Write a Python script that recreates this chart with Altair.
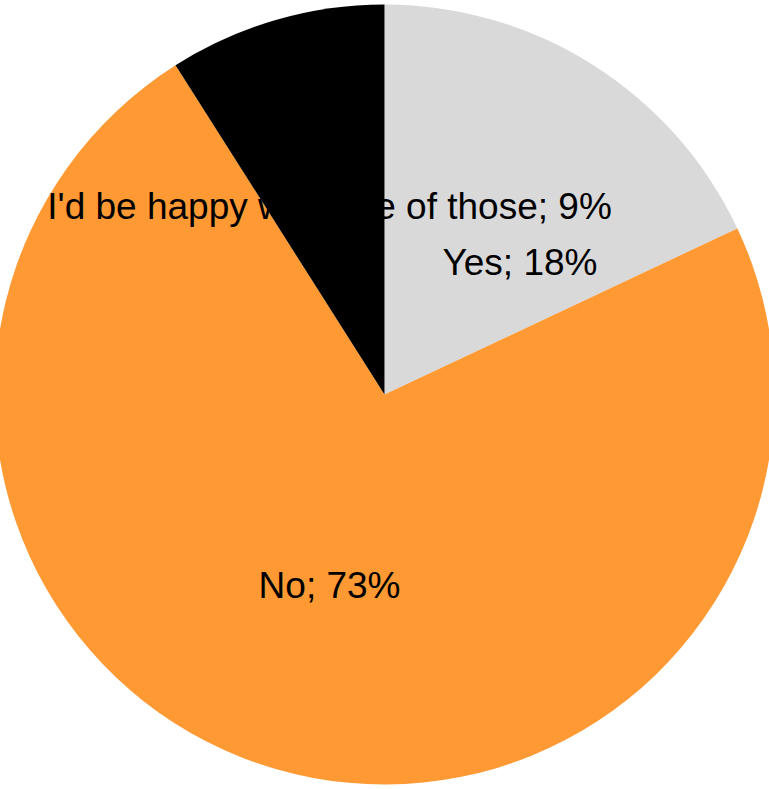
import altair as alt
import pandas as pd

categories = ["Yes", "No", "I'd be happy with one of those"]
values = [18, 73, 9]
labels = ["Yes; 18%", "No; 73%", "I'd be happy with one of those; 9%"]
colors = ["#d9d9d9", "#ff9933", "#000000"]

df = pd.DataFrame({
    "category": categories,
    "value": values,
    "label": labels,
    "order": list(range(len(categories))),
})

base = alt.Chart(df).transform_calculate(
    label_main="datum.category == 'Yes' ? '' : datum.label",
    label_yes="datum.category == 'Yes' ? datum.label : ''",
).encode(
    theta=alt.Theta("value:Q", stack=True),
    order=alt.Order("order:Q"),
)

arcs = base.mark_arc(radius=390, strokeWidth=0).encode(
    color=alt.Color("category:N",
                    scale=alt.Scale(domain=categories, range=colors),
                    legend=None),
)

txt_style = dict(font="Liberation Sans", fontSize=37, color="#000000",
                 align="center", baseline="middle")

text_main = base.mark_text(radius=197, dy=3, **txt_style).encode(
    text="label_main:N"
)

text_yes = base.mark_text(radius=195, dx=31, dy=34, **txt_style).encode(
    text="label_yes:N"
)

chart = alt.layer(arcs, text_main, text_yes).properties(
    width=769, height=789,
    autosize=alt.AutoSizeParams(type="none"),
    padding=0,
).configure_view(stroke=None)

chart.save("out.html", embed_options={"renderer": "svg", "actions": False})
